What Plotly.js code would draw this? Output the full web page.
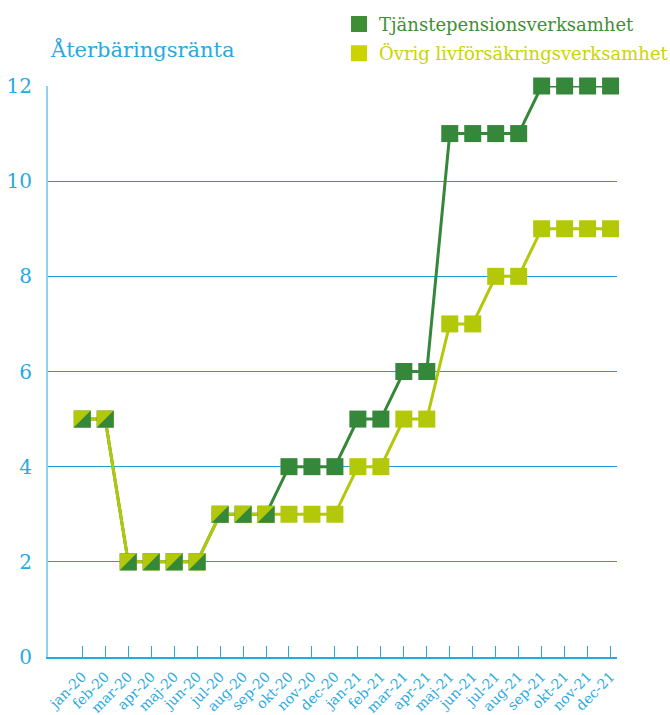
<!DOCTYPE html>
<html><head><meta charset="utf-8">
<script src="https://cdn.plot.ly/plotly-3.0.1.min.js"></script>
<style>html,body{margin:0;padding:0;background:#fff}#chart{width:670px;height:715px}</style>
</head><body><div id="chart"></div>
<script>
const months = ["jan-20","feb-20","mar-20","apr-20","maj-20","jun-20","jul-20","aug-20","sep-20","okt-20","nov-20","dec-20",
"jan-21","feb-21","mar-21","apr-21","maj-21","jun-21","jul-21","aug-21","sep-21","okt-21","nov-21","dec-21"];
const tjanstepension = [5,5,2,2,2,2,3,3,3,4,4,4,5,5,6,6,11,11,11,11,12,12,12,12];
const ovrigLiv = [5,5,2,2,2,2,3,3,3,3,3,3,4,4,5,5,7,7,8,8,9,9,9,9];
const seriesNames = ["Tjänstepensionsverksamhet","Övrig livförsäkringsverksamhet"];
const titleText = "Återbäringsränta";

const dark = "#35873a", light = "#b2c808";
const darkLegend = "#3e8f33", lightLegend = "#cbd400";
const blue = "#29a9e1";
const FONT = "DejaVu Serif";
const MS = 17, h = 8.5;

// split (diagonal) markers where both series share the same value
const shapes = [];
months.forEach((m,i)=>{
  if (tjanstepension[i] === ovrigLiv[i]) {
    shapes.push({type:"path", xref:"x", yref:"y", xsizemode:"pixel", ysizemode:"pixel",
      xanchor:i, yanchor:tjanstepension[i], layer:"above",
      path:`M${h},${h} L${h},${-h} L${-h},${-h} Z`, fillcolor:dark, line:{width:0}});
  }
});

const traces = [
 {x: months, y: tjanstepension, mode:"lines", line:{color:dark, width:3}, showlegend:false, hoverinfo:"skip", cliponaxis:false},
 {x: months, y: ovrigLiv, mode:"lines", line:{color:light, width:3}, showlegend:false, hoverinfo:"skip", cliponaxis:false},
 {x: months, y: tjanstepension, mode:"markers", showlegend:false, marker:{symbol:"square", size:MS, color:dark}, cliponaxis:false},
 {x: months, y: ovrigLiv, mode:"markers", showlegend:false, marker:{symbol:"square", size:MS, color:light}, cliponaxis:false},
 {x:[null], y:[null], mode:"markers", legendgroup:"a", name:'<span style="color:'+darkLegend+'">'+seriesNames[0]+'</span>', marker:{symbol:"square", size:17, color:darkLegend}},
 {x:[null], y:[null], mode:"markers", legendgroup:"b", name:'<span style="color:'+lightLegend+'">'+seriesNames[1]+'</span>', marker:{symbol:"square", size:17, color:lightLegend}}
];
const layout = {
  width:670, height:715,
  margin:{l:48, r:53, t:86, b:58, autoexpand:false},
  paper_bgcolor:"#fff", plot_bgcolor:"#fff",
  font:{family:FONT, color:blue},
  showlegend:true,
  legend:{xref:"container", yref:"container", x:0.506, xanchor:"left", y:0.992, yanchor:"top", bgcolor:"rgba(0,0,0,0)",
    font:{family:FONT, size:18}, traceorder:"grouped", tracegroupgap:3, itemwidth:30},
  annotations:[{text:titleText, xref:"paper", yref:"paper", x:0, xanchor:"left", y:1.0385, yanchor:"bottom", showarrow:false, font:{family:FONT, size:21, color:blue}}],
  shapes: shapes,
  xaxis:{type:"category", range:[-1.49, 23.28], automargin:false, showgrid:false, showline:true, linecolor:blue, linewidth:2,
    ticks:"inside", ticklen:11, tickcolor:blue, tickwidth:1, tickangle:-45, ticklabelstandoff:4, tickfont:{family:FONT, size:14, color:blue}, zeroline:false},
  yaxis:{range:[0,12], dtick:2, tick0:0, automargin:false, showgrid:true, gridcolor:"#1f9cd8", gridwidth:1.2, showline:true, linecolor:"#8dd0ef", linewidth:2,
    ticks:"", tickfont:{family:FONT, size:20, color:blue}, ticklabelstandoff:10, zeroline:false}
};
Plotly.newPlot("chart", traces, layout, {displayModeBar:false});
</script></body></html>
